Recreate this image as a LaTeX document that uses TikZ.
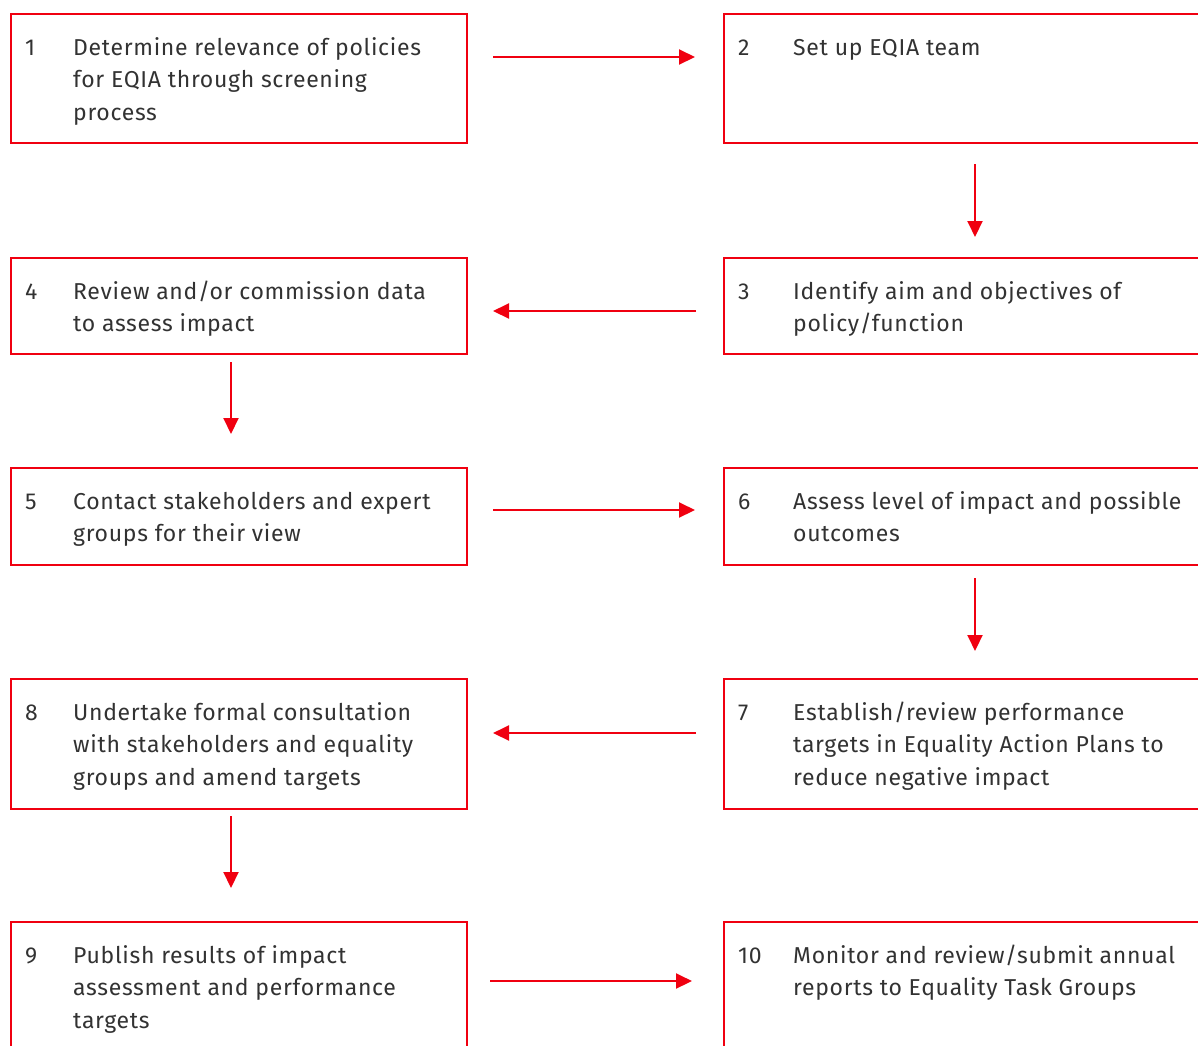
\documentclass[tikz,border=0pt]{standalone}
\usepackage{fontspec}
\setmainfont{Fira Sans}[LetterSpace=3]
\usetikzlibrary{arrows.meta}
\definecolor{boxred}{RGB}{240,0,16}
\definecolor{txt}{RGB}{50,50,50}
\begin{document}
\begin{tikzpicture}[x=1pt,y=-1pt,
  box/.style={draw=none,inner sep=0pt,outer sep=0pt,minimum width=#1},
  frame/.style={draw=boxred,line width=2pt},
  arr/.style={draw=boxred,line width=2pt,-{Triangle[length=16pt,width=15pt]}},
  num/.style={anchor=base west,inner sep=0pt,text=txt,font=\fontsize{23}{32.5}\selectfont},
  lbl/.style={anchor=north west,inner sep=0pt,align=left,text=txt,font=\fontsize{23}{32.5}\selectfont}]
\useasboundingbox (0,0) rectangle (1198,1045);
\clip (0,0) rectangle (1198,1045);
% boxes (left: x 11-467, right: x 724-1226)
\node[box=456pt,minimum height=129pt] (b1) at (239,78.5) {};
\node[box=502pt,minimum height=129pt] (b2) at (975,78.5) {};
\node[box=456pt,minimum height=96pt] (b4) at (239,306) {};
\node[box=502pt,minimum height=96pt] (b3) at (975,306) {};
\node[box=456pt,minimum height=97pt] (b5) at (239,516.5) {};
\node[box=502pt,minimum height=97pt] (b6) at (975,516.5) {};
\node[box=456pt,minimum height=130pt] (b8) at (239,744) {};
\node[box=502pt,minimum height=130pt] (b7) at (975,744) {};
\node[box=456pt,minimum height=138pt] (b9) at (239,991) {};
\node[box=502pt,minimum height=138pt] (b10) at (975,991) {};
\foreach \b in {b1,b4,b5,b8,b9}
  \draw[frame] (\b.south west) rectangle (\b.north east);
\foreach \b in {b2,b3,b6,b7,b10}
  \draw[frame] (\b.north east) -- (\b.north west) -- (\b.south west) -- (\b.south east);
% texts
\newcommand{\boxtext}[5]{%
  \node[num] (n#1) at ([xshift=14pt,yshift=-41pt]#2.north west) {#3};
  \node[lbl] (t#1) at ([xshift=#5,yshift=-18.25pt]#2.north west) {\strut #4};}
\boxtext{1}{b1}{1}{Determine relevance of policies\\for EQIA through screening\\process}{62pt}
\boxtext{2}{b2}{2}{Set up EQIA team}{69pt}
\boxtext{3}{b3}{3}{Identify aim and objectives of\\policy/function}{69pt}
\boxtext{4}{b4}{4}{Review and/or commission data\\to assess impact}{62pt}
\boxtext{5}{b5}{5}{Contact stakeholders and expert\\groups for their view}{62pt}
\boxtext{6}{b6}{6}{Assess level of impact and possible\\outcomes}{69pt}
\boxtext{7}{b7}{7}{Establish/review performance\\targets in Equality Action Plans to\\reduce negative impact}{69pt}
\boxtext{8}{b8}{8}{Undertake formal consultation\\with stakeholders and equality\\groups and amend targets}{62pt}
\boxtext{9}{b9}{9}{Publish results of impact\\assessment and performance\\targets}{62pt}
\boxtext{10}{b10}{10}{Monitor and review/submit annual\\reports to Equality Task Groups}{69pt}
% connectors
\draw[arr] ([xshift=26pt,yshift=-43pt]b1.north east) -- ([xshift=-29pt,yshift=-43pt]b2.north west);
\draw[arr] ([yshift=-21pt]b2.south) -- ([yshift=21pt]b3.north);
\draw[arr] ([xshift=-28pt,yshift=-53pt]b3.north west) -- ([xshift=26pt,yshift=-53pt]b4.north east);
\draw[arr] ([xshift=-8pt,yshift=-8pt]b4.south) -- ([xshift=-8pt,yshift=34pt]b5.north);
\draw[arr] ([xshift=26pt,yshift=-42pt]b5.north east) -- ([xshift=-29pt,yshift=-42pt]b6.north west);
\draw[arr] ([yshift=-13pt]b6.south) -- ([yshift=28pt]b7.north);
\draw[arr] ([xshift=-28pt,yshift=-54pt]b7.north west) -- ([xshift=26pt,yshift=-54pt]b8.north east);
\draw[arr] ([xshift=-8pt,yshift=-7pt]b8.south) -- ([xshift=-8pt,yshift=34pt]b9.north);
\draw[arr] ([xshift=23pt,yshift=-59pt]b9.north east) -- ([xshift=-32pt,yshift=-59pt]b10.north west);
\end{tikzpicture}
\end{document}
